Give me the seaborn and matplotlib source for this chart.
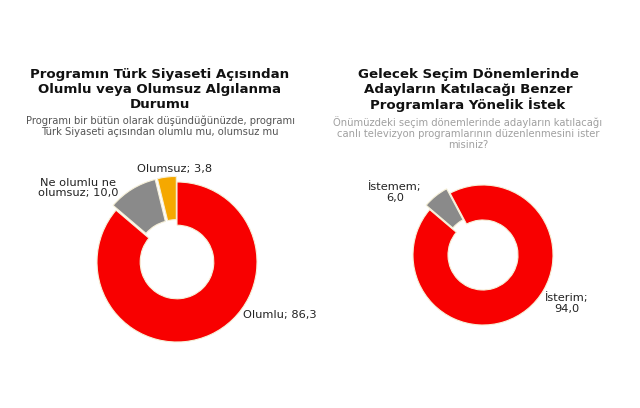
import matplotlib
matplotlib.use("Agg")
import matplotlib.pyplot as plt
import seaborn as sns

sns.set_theme(style="white")
plt.rcParams['font.family'] = ['DejaVu Sans']

# Data
left_labels = ["Olumlu", "Ne olumlu ne\nolumsuz", "Olumsuz"]
left_values = [86.3, 10.0, 3.8]
left_colors = ["#f80000", "#8a8a8a", "#f5a800"]
left_title = "Programın Türk Siyaseti Açısından\nOlumlu veya Olumsuz Algılanma\nDurumu"
left_sub = "Programı bir bütün olarak düşündüğünüzde, programı\nTürk Siyaseti açısından olumlu mu, olumsuz mu"

right_labels = ["İsterim", "İstemem"]
right_values = [94.0, 6.0]
right_colors = ["#f80000", "#8a8a8a"]
right_title = "Gelecek Seçim Dönemlerinde\nAdayların Katılacağı Benzer\nProgramlara Yönelik İstek"
right_sub = "Önümüzdeki seçim dönemlerinde adayların katılacağı\ncanlı televizyon programlarının düzenlenmesini ister\nmisiniz?"

W, H = 640, 408
fig = plt.figure(figsize=(W / 100, H / 100), dpi=100)
ax = fig.add_axes([0, 0, 1, 1])

def fmt(v):
    return f"{v:.1f}".replace(".", ",")

r1, r2 = 80, 70
# Left donut
ax.pie(left_values, colors=left_colors, startangle=90, counterclock=False,
       center=(177, H - 262), radius=r1, explode=[0, r1 * 0.07, r1 * 0.07],
       wedgeprops=dict(width=r1 * 0.54, edgecolor="#f6f0d8", linewidth=0.8))
# Right donut
ax.pie(right_values, colors=right_colors, startangle=118, counterclock=False,
       center=(483, H - 255), radius=r2, explode=[0, r2 * 0.08],
       wedgeprops=dict(width=r2 * 0.5, edgecolor="#f6f0d8", linewidth=0.8))

ax.set_xlim(0, W)
ax.set_ylim(0, H)
ax.set_aspect("equal")
ax.axis("off")

fs = 8.2
ax.text(175, H - 169, f"{left_labels[2]}; {fmt(left_values[2])}", ha="center", va="center",
        fontsize=fs, color="#222222")
ax.text(78, H - 188, f"{left_labels[1]}; {fmt(left_values[1])}", ha="center", va="center",
        fontsize=fs, color="#222222", linespacing=1.1)
ax.text(243, H - 315, f"{left_labels[0]}; {fmt(left_values[0])}", ha="left", va="center",
        fontsize=fs, color="#222222")
ax.text(395, H - 192, f"{right_labels[1]};\n{fmt(right_values[1])}", ha="center", va="center",
        fontsize=fs, color="#222222", linespacing=1.1)
ax.text(567, H - 303, f"{right_labels[0]};\n{fmt(right_values[0])}", ha="center", va="center",
        fontsize=fs, color="#222222", linespacing=1.1)

# Titles
fig.text(160 / W, 1 - 68 / H, left_title, ha="center", va="top", fontsize=9.6,
         fontweight="bold", color="#111111", linespacing=1.18)
fig.text(160 / W, 1 - 116 / H, left_sub, ha="center", va="top", fontsize=7.2,
         color="#555555", linespacing=1.1)
fig.text(468 / W, 1 - 68 / H, right_title, ha="center", va="top", fontsize=9.6,
         fontweight="bold", color="#111111", linespacing=1.18)
fig.text(468 / W, 1 - 116 / H, right_sub, ha="center", va="top", fontsize=7.2,
         color="#a0a0a0", linespacing=1.15)

fig.savefig("out.png", dpi=100, facecolor="white")
